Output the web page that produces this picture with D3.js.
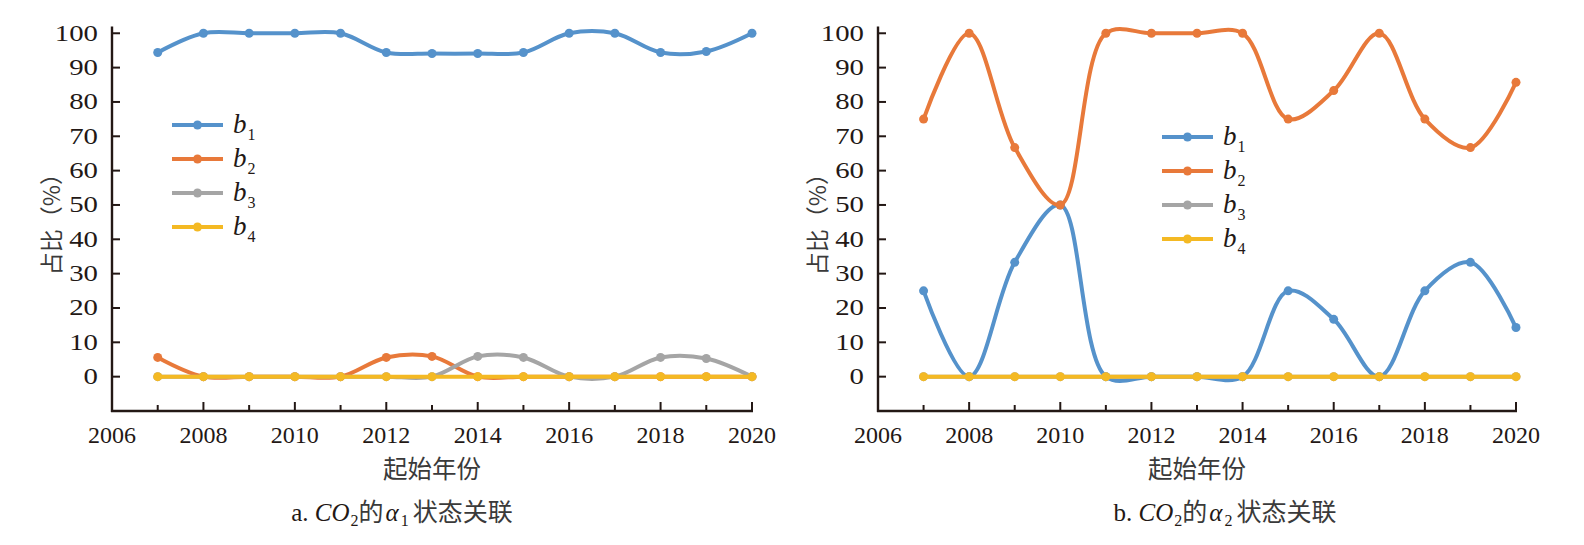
<!DOCTYPE html>
<html>
<head>
<meta charset="utf-8">
<script src="https://cdn.jsdelivr.net/npm/d3@7/dist/d3.min.js"></script>
<style>
  html, body { margin: 0; padding: 0; background: #fff; }
  svg { display: block; }
  .serif { font-family: "Liberation Serif", "DejaVu Serif", serif; }
  .cjk { font-family: "Noto Sans CJK SC", sans-serif; }
</style>
</head>
<body>
<svg id="chart" width="1584" height="545"></svg>
<script>
// ---------- data ----------
const years = [2007, 2008, 2009, 2010, 2011, 2012, 2013, 2014, 2015, 2016, 2017, 2018, 2019, 2020];
const xTickLabels = [2006, 2008, 2010, 2012, 2014, 2016, 2018, 2020];
const yTickLabels = [0, 10, 20, 30, 40, 50, 60, 70, 80, 90, 100];
const seriesNames = ["b1", "b2", "b3", "b4"];
const seriesColors = ["#5592cb", "#e8793a", "#a5a5a5", "#f4b923"];

// panel a: alpha1
const a_b1 = [94.4, 100, 100, 100, 100, 94.4, 94.1, 94.1, 94.4, 100, 100, 94.4, 94.7, 100];
const a_b2 = [5.6, 0, 0, 0, 0, 5.6, 5.9, 0, 0, 0, 0, 0, 0, 0];
const a_b3 = [0, 0, 0, 0, 0, 0, 0, 5.9, 5.6, 0, 0, 5.6, 5.3, 0];
const a_b4 = [0, 0, 0, 0, 0, 0, 0, 0, 0, 0, 0, 0, 0, 0];

// panel b: alpha2
const b_b1 = [25, 0, 33.3, 50, 0, 0, 0, 0, 25, 16.7, 0, 25, 33.3, 14.3];
const b_b2 = [75, 100, 66.7, 50, 100, 100, 100, 100, 75, 83.3, 100, 75, 66.7, 85.7];
const b_b3 = [0, 0, 0, 0, 0, 0, 0, 0, 0, 0, 0, 0, 0, 0];
const b_b4 = [0, 0, 0, 0, 0, 0, 0, 0, 0, 0, 0, 0, 0, 0];

const xTitle = "起始年份";
const yTitle = "占比（%）";

// ---------- drawing ----------
const svg = d3.select("#chart");
const ink = "#231815";

function drawPanel(opt) {
  const x = d3.scaleLinear().domain([2006, 2020]).range([opt.left, opt.right]);
  const y = d3.scaleLinear().domain([-10, 102]).range([411, 26.4]);
  const g = svg.append("g");

  // x axis
  g.append("line")
    .attr("x1", x(2006) - 1).attr("x2", x(2020) + 1)
    .attr("y1", y(-10)).attr("y2", y(-10))
    .attr("stroke", ink).attr("stroke-width", 2.4);
  g.selectAll(".xt").data(d3.range(2007, 2021)).enter().append("line")
    .attr("x1", d => x(d)).attr("x2", d => x(d))
    .attr("y1", y(-10)).attr("y2", d => y(-10) - (d % 2 === 0 ? 9 : 6))
    .attr("stroke", ink).attr("stroke-width", 2);
  g.selectAll(".xl").data(xTickLabels).enter().append("text")
    .attr("class", "serif")
    .attr("x", d => x(d)).attr("y", 443)
    .attr("text-anchor", "middle")
    .attr("font-size", 24).attr("fill", ink)
    .text(d => d);

  // y axis
  g.append("line")
    .attr("x1", x(2006)).attr("x2", x(2006))
    .attr("y1", y(102)).attr("y2", y(-10) + 1)
    .attr("stroke", ink).attr("stroke-width", 2.4);
  g.selectAll(".yt").data(yTickLabels).enter().append("line")
    .attr("x1", x(2006)).attr("x2", x(2006) + 8)
    .attr("y1", d => y(d)).attr("y2", d => y(d))
    .attr("stroke", ink).attr("stroke-width", 2);
  g.selectAll(".yl").data(yTickLabels).enter().append("text")
    .attr("class", "serif")
    .attr("transform", d => `translate(${x(2006) - 14},${y(d) + 7.5}) scale(1.28,1)`)
    .attr("text-anchor", "end")
    .attr("font-size", 22.5).attr("fill", ink)
    .text(d => d);

  // axis titles
  g.append("text")
    .attr("class", "cjk")
    .attr("transform", `translate(${x(2006) - 62},${(y(102) + y(-10)) / 2}) rotate(-90)`)
    .attr("text-anchor", "middle").attr("dominant-baseline", "central")
    .attr("font-size", 23)
    .attr("fill", "#3a3a3a").text(yTitle);
  g.append("text")
    .attr("class", "cjk")
    .attr("x", (x(2006) + x(2020)) / 2).attr("y", 478)
    .attr("text-anchor", "middle")
    .attr("font-size", 24.5)
    .attr("fill", "#3a3a3a").text(xTitle);

  // series
  const line = d3.line()
    .x((d, i) => x(years[i]))
    .y(d => y(d))
    .curve(d3.curveCatmullRom.alpha(0.5));
  opt.series.forEach((vals, si) => {
    g.append("path").datum(vals)
      .attr("d", line)
      .attr("fill", "none")
      .attr("stroke", seriesColors[si])
      .attr("stroke-width", 4)
      .attr("stroke-linejoin", "round");
    g.selectAll(".pt" + si).data(vals).enter().append("circle")
      .attr("cx", (d, i) => x(years[i])).attr("cy", d => y(d))
      .attr("r", 4.5).attr("fill", seriesColors[si]);
  });

  // legend
  seriesNames.forEach((name, si) => {
    const ly = opt.legendY + si * 34;
    g.append("line")
      .attr("x1", opt.legendX).attr("x2", opt.legendX + 51)
      .attr("y1", ly).attr("y2", ly)
      .attr("stroke", seriesColors[si]).attr("stroke-width", 4);
    g.append("circle")
      .attr("cx", opt.legendX + 25.5).attr("cy", ly).attr("r", 4.5)
      .attr("fill", seriesColors[si]);
    const t = g.append("text")
      .attr("class", "serif")
      .attr("x", opt.legendX + 61).attr("y", ly + 8)
      .attr("fill", ink);
    t.append("tspan").attr("font-style", "italic").attr("font-size", 27).text(name[0]);
    t.append("tspan").attr("font-size", 16).attr("dy", 7).attr("dx", 1).text(name.slice(1));
  });

  // caption
  const c = g.append("text")
    .attr("class", "serif")
    .attr("x", opt.captionX).attr("y", 521)
    .attr("text-anchor", "middle")
    .attr("font-size", 25).attr("fill", ink);
  c.append("tspan").text(opt.captionLetter + " ");
  c.append("tspan").attr("font-style", "italic").text("CO");
  c.append("tspan").attr("font-size", 16).attr("dy", 5).attr("dx", 1).text("2");
  c.append("tspan").attr("dy", -5).attr("class", "cjk").attr("font-size", 25).attr("fill", "#3a3a3a").text("的");
  c.append("tspan").attr("font-style", "italic").attr("dx", 2).text("α");
  c.append("tspan").attr("font-size", 16).attr("dy", 5).attr("dx", 2).text(opt.alphaIndex);
  c.append("tspan").attr("dy", -5).attr("dx", 4).attr("class", "cjk").attr("font-size", 25).attr("fill", "#3a3a3a").text("状态关联");
}

drawPanel({
  left: 112, right: 752,
  series: [a_b1, a_b2, a_b3, a_b4],
  legendX: 172, legendY: 125,
  captionX: 402, captionLetter: "a.", alphaIndex: "1"
});
drawPanel({
  left: 878, right: 1516,
  series: [b_b1, b_b2, b_b3, b_b4],
  legendX: 1162, legendY: 137,
  captionX: 1225, captionLetter: "b.", alphaIndex: "2"
});
</script>
</body>
</html>
